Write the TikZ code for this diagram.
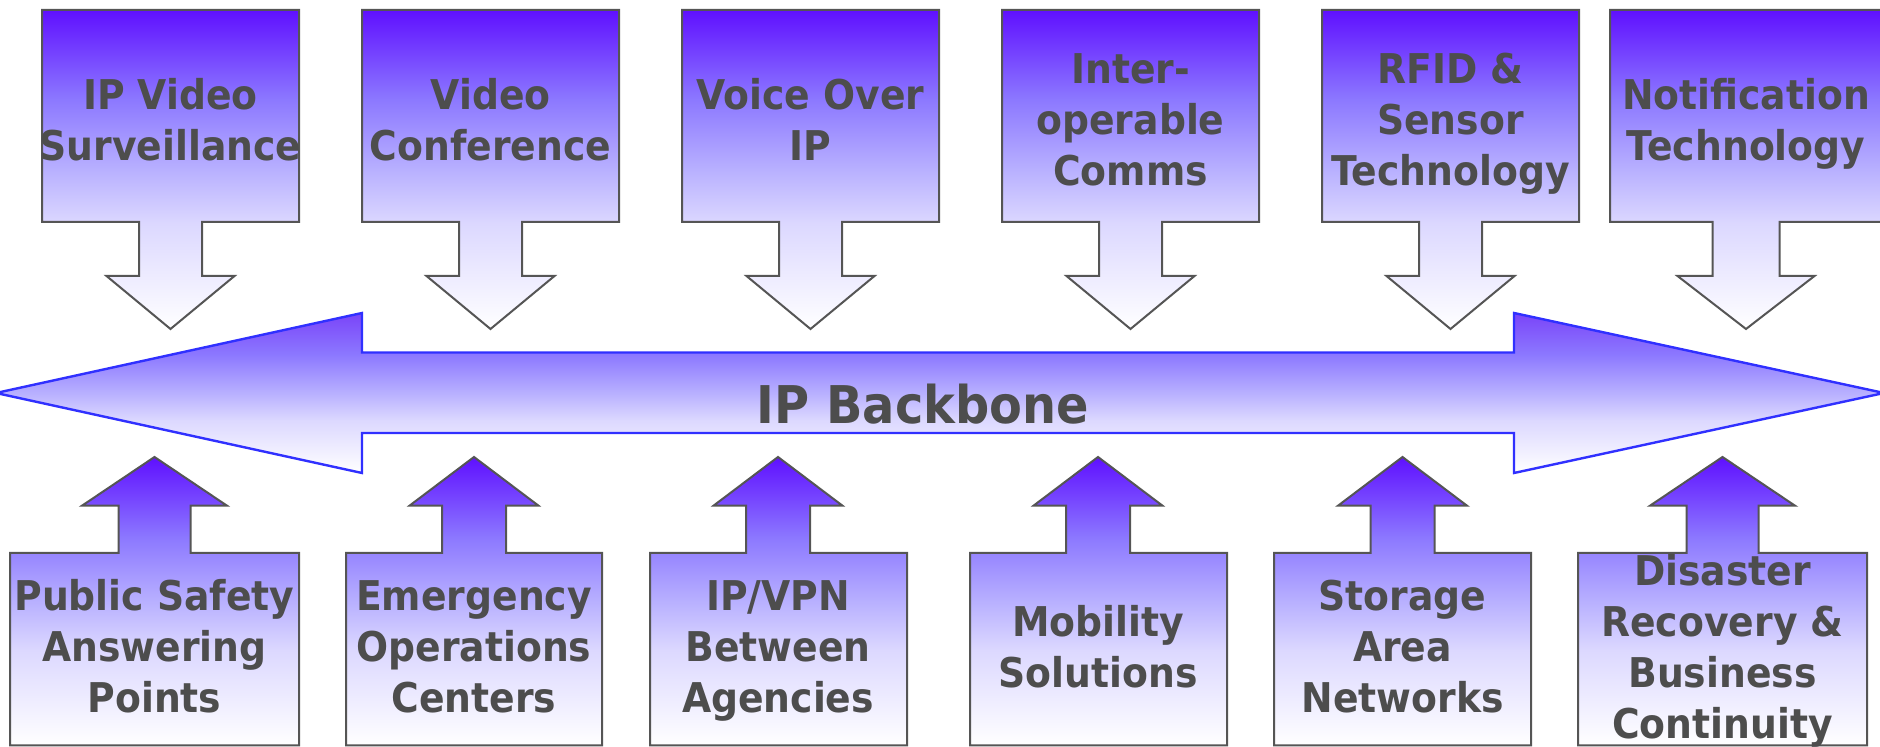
\documentclass[tikz,border=0pt]{standalone}
\usepackage{fontspec}
\newfontfamily\labfont{DejaVu Sans}[FakeStretch=0.92]
\definecolor{vtop}{HTML}{5F10FF}
\definecolor{vtwo}{HTML}{8C78FF}
\definecolor{vfive}{HTML}{B8B0FF}
\definecolor{vsix}{HTML}{DCD8FF}
\definecolor{btop}{HTML}{7A44F8}
\definecolor{edgegray}{HTML}{555555}
\definecolor{boneblue}{HTML}{3030FF}
\definecolor{txtgray}{HTML}{4D4D4D}
\pgfdeclareverticalshading{vio}{100bp}{color(0bp)=(white); color(25bp)=(white); color(41.5bp)=(vsix); color(50bp)=(vfive); color(61bp)=(vtwo); color(75bp)=(vtop); color(100bp)=(vtop)}
\pgfdeclareverticalshading{bone}{100bp}{color(0bp)=(white); color(25bp)=(white); color(41.5bp)=(vsix); color(50bp)=(vfive); color(62bp)=(vtwo); color(75bp)=(btop); color(100bp)=(btop)}
\newcommand\tstrut{\rule[-16pt]{0pt}{32pt}}
\newcommand\tightls{\lineskiplimit -1000pt\relax}
% top shape: left, right, centre, stem half width, head half width
\newcommand\topshape[5]{\shadedraw[boxsty] (#1,10) -- (#2,10) -- (#2,222) -- ({#3+#4},222) -- ({#3+#4},276) -- ({#3+#5},276) -- (#3,329) -- ({#3-#5},276) -- ({#3-#4},276) -- ({#3-#4},222) -- (#1,222) -- cycle;}
% bottom shape: left, right, centre, stem half width, head half width
\newcommand\botshape[5]{\shadedraw[boxsty] (#3,457) -- ({#3+#5},505.7) -- ({#3+#4},505.7) -- ({#3+#4},553) -- (#2,553) -- (#2,745.5) -- (#1,745.5) -- (#1,553) -- ({#3-#4},553) -- ({#3-#4},505.7) -- ({#3-#5},505.7) -- cycle;}
\tikzset{
  boxsty/.style={shading=vio, draw=edgegray, line width=1pt, line join=miter},
  bonesty/.style={shading=bone, draw=boneblue, line width=1.2pt, line join=miter},
  lbl/.style={font=\labfont\bfseries\fontsize{20.5}{25.5}\selectfont\tightls, text=txtgray, align=center, inner sep=0pt},
  bonelbl/.style={font=\labfont\bfseries\fontsize{26}{30}\selectfont, text=txtgray, inner sep=0pt, anchor=base},
}
\begin{document}
\begin{tikzpicture}[x=0.5pt,y=-0.5pt]
\useasboundingbox (0,0) rectangle (1880,747);
% top arrows
\topshape{42}{299}{170.5}{31.5}{64}
\topshape{362}{619}{490.5}{31.5}{64}
\topshape{682}{939}{810.5}{31.5}{64}
\topshape{1002}{1259}{1130.5}{31.5}{64}
\topshape{1322}{1579}{1450.5}{31.5}{64}
\topshape{1610}{1882}{1746}{33.5}{68.5}
% backbone
\shadedraw[bonesty] (-4,393) -- (362,313) -- (362,352.5) -- (1514,352.5) -- (1514,313) -- (1884,393) -- (1514,473) -- (1514,433) -- (362,433) -- (362,473) -- cycle;
% bottom arrows
\botshape{10}{299}{154.5}{36}{72.5}
\botshape{346}{602}{474}{32}{64.5}
\botshape{650}{907}{778}{32}{64.5}
\botshape{970}{1227}{1098}{32}{64.5}
\botshape{1274}{1531}{1402.5}{32}{64.5}
\botshape{1578}{1867}{1722.5}{36}{72.5}
% labels
\node[lbl] (t1) at (170.5,135) {\tstrut IP Video\\\tstrut Surveillance};
\node[lbl] (t2) at (490.5,135) {\tstrut Video\\\tstrut Conference};
\node[lbl] (t3) at (810.5,135) {\tstrut Voice Over\\\tstrut IP};
\node[lbl] (t4) at (1130.5,135) {\tstrut Inter-\\\tstrut operable\\\tstrut Comms};
\node[lbl] (t5) at (1450.5,135) {\tstrut RFID \&\\\tstrut Sensor\\\tstrut Technology};
\node[lbl] (t6) at (1746,135) {\tstrut Notification\\\tstrut Technology};
\node[bonelbl] (bb) at (923,424) {IP Backbone};
\node[lbl] (b1) at (154.5,662) {\tstrut Public Safety\\\tstrut Answering\\\tstrut Points};
\node[lbl] (b2) at (474,662) {\tstrut Emergency\\\tstrut Operations\\\tstrut Centers};
\node[lbl] (b3) at (778,662) {\tstrut IP/VPN\\\tstrut Between\\\tstrut Agencies};
\node[lbl] (b4) at (1098,662) {\tstrut Mobility\\\tstrut Solutions};
\node[lbl] (b5) at (1402.5,662) {\tstrut Storage\\\tstrut Area\\\tstrut Networks};
\node[lbl] (b6) at (1722.5,662) {\tstrut Disaster\\\tstrut Recovery \&\\\tstrut Business\\\tstrut Continuity};
\end{tikzpicture}
\end{document}
